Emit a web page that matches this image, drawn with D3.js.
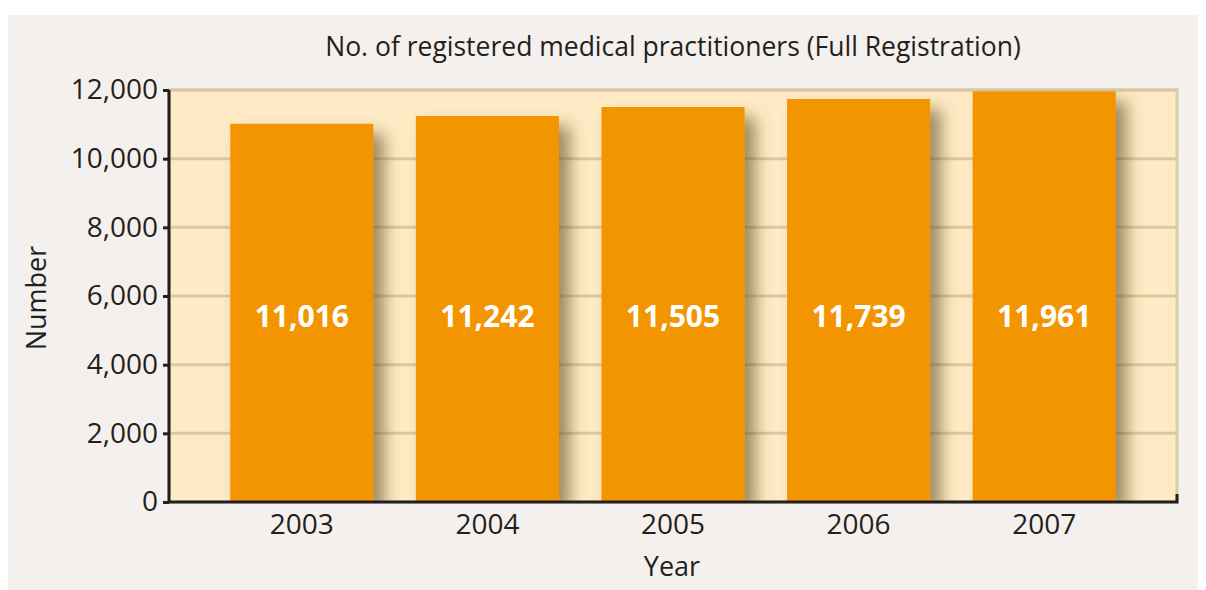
<!DOCTYPE html>
<html>
<head>
<meta charset="utf-8">
<script src="https://cdn.jsdelivr.net/npm/d3@7"></script>
<style>
  body { margin: 0; background: #fff; }
  svg text { font-family: "Open Sans", "Noto Sans", sans-serif; fill: #231f20; }
</style>
</head>
<body>
<div id="chart"></div>
<script>
const years = ["2003", "2004", "2005", "2006", "2007"];
const practitioners = [11016, 11242, 11505, 11739, 11961];
const yTicks = [0, 2000, 4000, 6000, 8000, 10000, 12000];

const width = 1206, height = 590;
const margin = { top: 90, right: 29, bottom: 88, left: 169 };
const innerW = width - margin.left - margin.right;
const innerH = height - margin.top - margin.bottom;

const svg = d3.select("#chart").append("svg")
  .attr("width", width)
  .attr("height", height);

// outer panel
svg.append("rect")
  .attr("x", 8).attr("y", 15)
  .attr("width", 1190).attr("height", 575)
  .attr("fill", "#f4f0ed");

const defs = svg.append("defs");
const shadow = defs.append("filter")
  .attr("id", "shadow")
  .attr("x", "-20%").attr("y", "-20%")
  .attr("width", "160%").attr("height", "160%");
shadow.append("feDropShadow")
  .attr("dx", 11).attr("dy", 10)
  .attr("stdDeviation", 8)
  .attr("flood-color", "#5e4c22")
  .attr("flood-opacity", 0.6);

defs.append("clipPath").attr("id", "plotClip")
  .append("rect").attr("width", innerW).attr("height", innerH);

const g = svg.append("g")
  .attr("transform", `translate(${margin.left},${margin.top})`);

const x = d3.scaleBand()
  .domain(years)
  .range([0, innerW])
  .paddingInner(0.229)
  .paddingOuter(0.33);

const y = d3.scaleLinear()
  .domain([0, 12000])
  .range([innerH, 0]);

// plot background
g.append("rect")
  .attr("width", innerW).attr("height", innerH)
  .attr("fill", "#feebc5")
  .attr("stroke", "#dccca4")
  .attr("stroke-width", 3);

// gridlines
g.append("g")
  .selectAll("line")
  .data(yTicks.slice(1))
  .join("line")
  .attr("x1", 0).attr("x2", innerW)
  .attr("y1", d => y(d)).attr("y2", d => y(d))
  .attr("stroke", "#d9c9a2")
  .attr("stroke-width", 3);

// bars with shadow
g.append("g")
  .attr("clip-path", "url(#plotClip)")
  .selectAll("rect")
  .data(practitioners)
  .join("rect")
  .attr("x", (d, i) => x(years[i]))
  .attr("y", d => y(d))
  .attr("width", x.bandwidth())
  .attr("height", d => innerH - y(d))
  .attr("fill", "#f39500")
  .attr("filter", "url(#shadow)");

// value labels
g.append("g")
  .selectAll("text")
  .data(practitioners)
  .join("text")
  .attr("x", (d, i) => x(years[i]) + x.bandwidth() / 2)
  .attr("y", 237)
  .attr("text-anchor", "middle")
  .style("fill", "#fff")
  .style("font-weight", "bold")
  .style("font-size", "30px")
  .text(d => d3.format(",")(d));

// y axis
const yAxis = g.append("g")
  .call(d3.axisLeft(y).tickValues(yTicks).tickFormat(d3.format(",")).tickSize(6).tickPadding(5));
yAxis.select(".domain").attr("stroke", "#231f20").attr("stroke-width", 3)
  .attr("d", `M0,0V${innerH}`);
yAxis.selectAll(".tick line").attr("stroke", "#231f20").attr("stroke-width", 3);
yAxis.selectAll(".tick text").style("font-size", "28px").style("fill", "#231f20");

// x axis
const xAxis = g.append("g")
  .attr("transform", `translate(0,${innerH})`)
  .call(d3.axisBottom(x).tickSize(0).tickPadding(12));
xAxis.select(".domain").attr("stroke", "#231f20").attr("stroke-width", 3)
  .attr("d", `M0,0H${innerW}V-8`);
xAxis.selectAll(".tick text").style("font-size", "28px").style("fill", "#231f20");

// titles
svg.append("text")
  .attr("x", 673).attr("y", 56)
  .attr("text-anchor", "middle")
  .style("font-size", "26.5px")
  .text("No. of registered medical practitioners (Full Registration)");

svg.append("text")
  .attr("x", 672).attr("y", 576)
  .attr("text-anchor", "middle")
  .style("font-size", "27px")
  .text("Year");

svg.append("text")
  .attr("transform", "translate(46,298) rotate(-90)")
  .attr("text-anchor", "middle")
  .style("font-size", "27px")
  .text("Number");
</script>
</body>
</html>
